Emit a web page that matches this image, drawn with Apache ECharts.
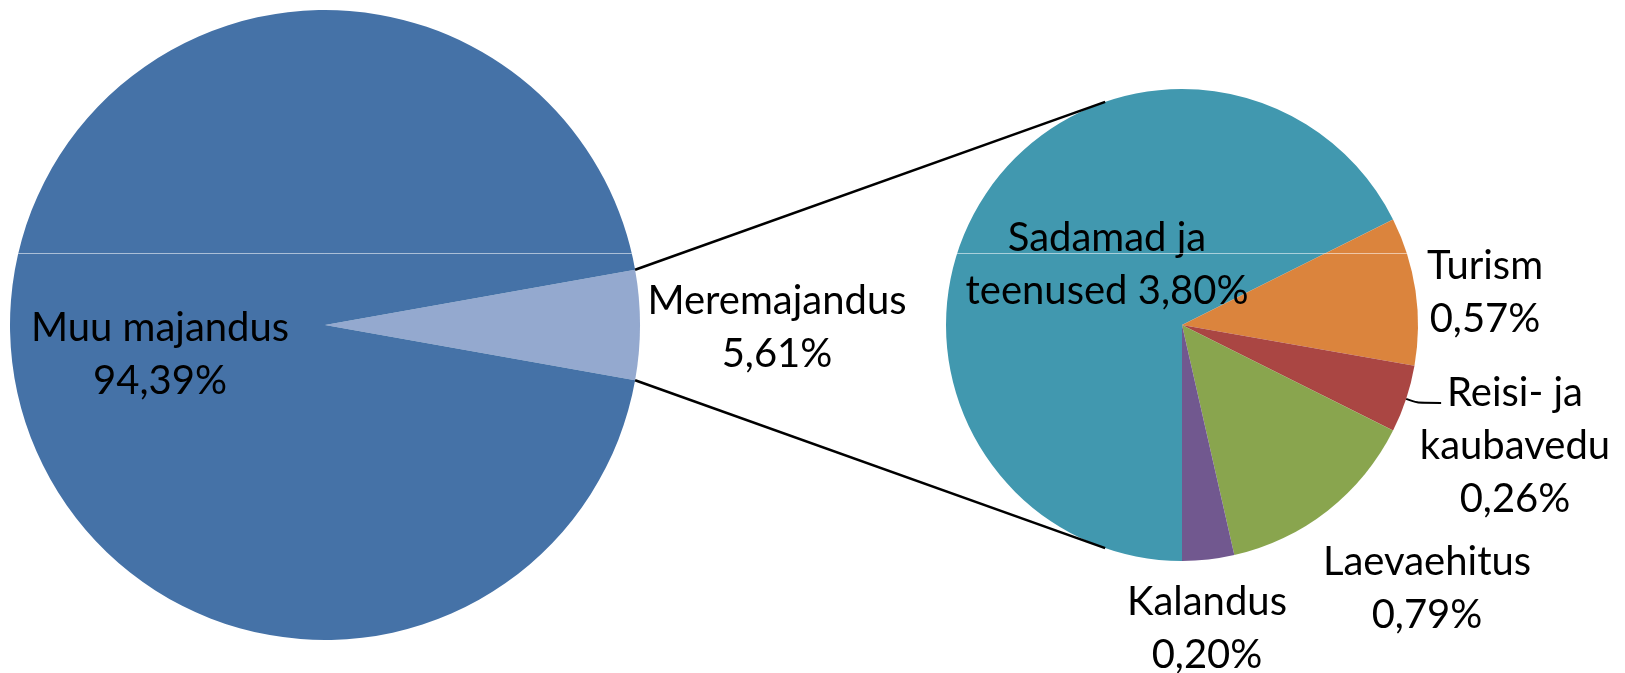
<!DOCTYPE html>
<html><head><meta charset="utf-8">
<script src="https://cdn.jsdelivr.net/npm/echarts@6/dist/echarts.min.js"></script>
<style>html,body{margin:0;padding:0;background:#fff}#c{width:1625px;height:673px}</style>
</head><body><div id="c"></div>
<script>
// ---- data ----
const mainNames = ['Meremajandus', 'Muu majandus'];
const mainValues = [5.61, 94.39];
const subNames = ['Sadamad ja\nteenused', 'Turism', 'Reisi- ja\nkaubavedu', 'Laevaehitus', 'Kalandus'];
const subValues = [3.80, 0.57, 0.26, 0.79, 0.20];

// ---- layout / style ----
const mainColors = ['#94A9CF', '#4572A7'];
const subColors = ['#4198AF', '#DB843D', '#AA4643', '#89A54E', '#71588F'];
const LC = [325, 325], LR = 315;
const RC = [1182, 325], RR = 236;
const FONT = 'Lato';
const mainLabelPos = [[777, 328], [160, 355]];
const subLabelPos = [[1107, 265], [1485, 293], [1515, 446], [1427, 589], [1207, 629]];
const subSep = [' ', '\n', '\n', '\n', '\n'];
const connectorAngle = 109; // degrees on the secondary pie

const fmt = v => v.toFixed(2).replace('.', ',') + '%';
const sum = a => a.reduce((s, v) => s + v, 0);

const mainHalfDeg = mainValues[0] / sum(mainValues) * 180;

const chart = echarts.init(document.getElementById('c'), null, {renderer: 'canvas'});

const labelBase = {
  show: true, position: 'inside', color: '#000', fontFamily: FONT,
  fontSize: 40, lineHeight: 53, align: 'center', overflow: 'none'
};

// Reisi leader line: mid angle of its slice on the secondary pie (clockwise from bottom)
const subTot = sum(subValues);
let acc = 0;
const subMidDeg = subValues.map(v => { const m = acc + v / 2; acc += v; return m / subTot * 360; });
function subEdgePoint(idx) {
  const a = (90 + subMidDeg[idx]) * Math.PI / 180;
  return [RC[0] + RR * Math.cos(a), RC[1] + RR * Math.sin(a)];
}

const option = {
  backgroundColor: '#fff',
  animation: false,
  series: [
    {
      type: 'pie', center: LC, radius: LR, startAngle: mainHalfDeg, clockwise: true,
      silent: true,
      data: mainNames.map((n, i) => ({name: n, value: mainValues[i], itemStyle: {color: mainColors[i]}})),
      label: Object.assign({}, labelBase, {formatter: p => p.name + '\n' + fmt(p.value)}),
      labelLine: {show: false},
      labelLayout: p => ({x: mainLabelPos[p.dataIndex][0], y: mainLabelPos[p.dataIndex][1], align: 'center', verticalAlign: 'middle'})
    },
    {
      type: 'pie', center: RC, radius: RR, startAngle: 270, clockwise: true,
      silent: true,
      data: subNames.map((n, i) => ({
        name: n, value: subValues[i], itemStyle: {color: subColors[i]},
        label: i === 2 ? {position: 'outside', overflow: 'none', width: null, edgeDistance: 0, bleedMargin: 0} : undefined,
        labelLine: i === 2 ? {show: true, smooth: 0.3, lineStyle: {color: '#000', width: 2}} : {show: false}
      })),
      label: Object.assign({}, labelBase, {formatter: p => p.name + subSep[p.dataIndex] + fmt(p.value)}),
      labelLine: {show: false},
      labelLayout: p => {
        const o = {x: subLabelPos[p.dataIndex][0], y: subLabelPos[p.dataIndex][1], align: 'center', verticalAlign: 'middle'};
        if (p.dataIndex === 2) {
          const s = subEdgePoint(2);
          o.labelLinePoints = [s, [s[0] + 11, s[1] + 4], [s[0] + 35, s[1] + 4]];
        }
        return o;
      }
    }
  ]
};
chart.setOption(option);

// connector lines between the two pies, derived from pie geometry
const h = mainHalfDeg * Math.PI / 180;
const ca = connectorAngle * Math.PI / 180;
const upS = [LC[0] + LR * Math.cos(h), LC[1] - LR * Math.sin(h)];
const loS = [LC[0] + LR * Math.cos(h), LC[1] + LR * Math.sin(h)];
const upE = [RC[0] + RR * Math.cos(ca), RC[1] - RR * Math.sin(ca)];
const loE = [RC[0] + RR * Math.cos(ca), RC[1] + RR * Math.sin(ca)];
// faint horizontal seam seen across both pies
const seamY = 253.5;
const lw = Math.sqrt(LR * LR - (seamY - LC[1]) ** 2);
const rw = Math.sqrt(RR * RR - (seamY - RC[1]) ** 2);
chart.setOption({
  graphic: [
    {type: 'line', z: 100, silent: true, shape: {x1: upS[0], y1: upS[1], x2: upE[0], y2: upE[1]}, style: {stroke: '#000', lineWidth: 2.5}},
    {type: 'line', z: 100, silent: true, shape: {x1: loS[0], y1: loS[1], x2: loE[0], y2: loE[1]}, style: {stroke: '#000', lineWidth: 2.5}},
    {type: 'line', z: 90, silent: true, shape: {x1: LC[0] - lw, y1: seamY, x2: LC[0] + lw, y2: seamY}, style: {stroke: 'rgba(255,255,255,0.55)', lineWidth: 1}},
    {type: 'line', z: 90, silent: true, shape: {x1: RC[0] - rw, y1: seamY, x2: RC[0] + rw, y2: seamY}, style: {stroke: 'rgba(255,255,255,0.55)', lineWidth: 1}}
  ]
});
</script></body></html>
